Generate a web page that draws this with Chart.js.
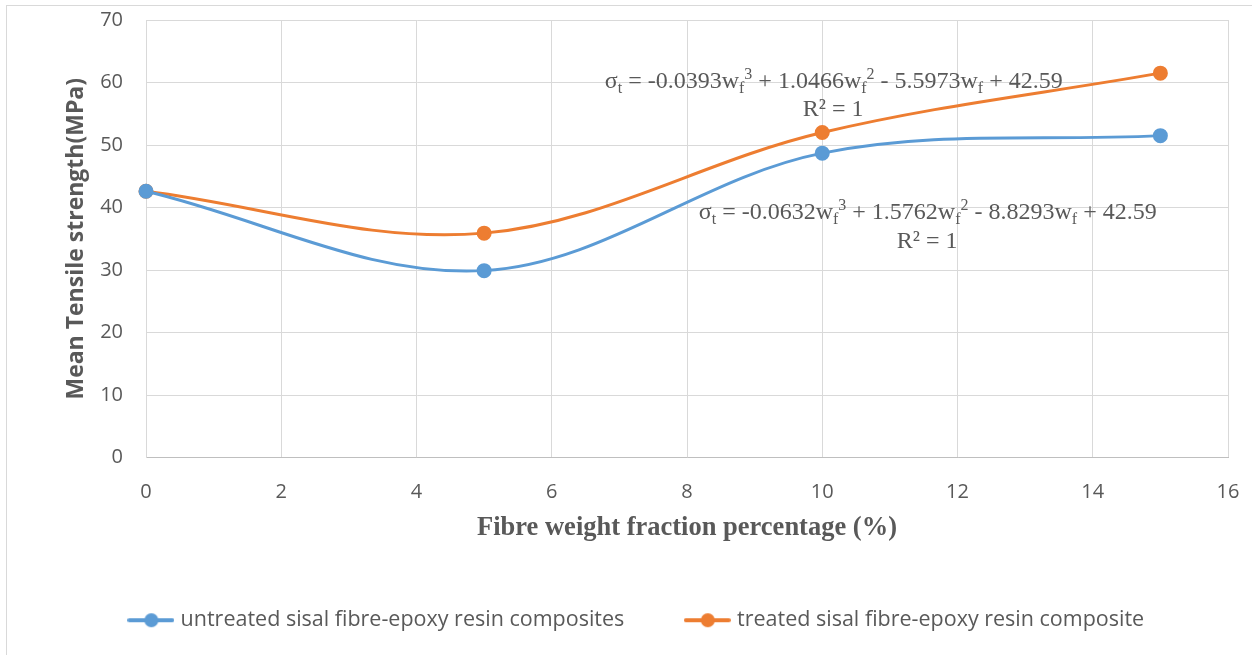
<!DOCTYPE html>
<html>
<head>
<meta charset="utf-8">
<script src="https://cdn.jsdelivr.net/npm/chart.js@4.4.0/dist/chart.umd.min.js"></script>
<style>
html, body { margin: 0; padding: 0; background: #fff; }
#wrap { position: relative; width: 1252px; height: 655px; overflow: hidden; }
#frame { position: absolute; left: 6px; top: 5px; width: 1270px; height: 670px; border: 1px solid #d9d9d9; }
canvas { position: absolute; left: 0; top: 0; }
</style>
</head>
<body>
<div id="wrap"><div id="frame"></div><canvas id="myChart" width="1252" height="655"></canvas></div>
<script>
// values
const fibreFraction = [0, 5, 10, 15];
const untreatedStrength = [42.6, 29.9, 48.7, 51.5];
const treatedStrength = [42.6, 35.9, 52.0, 61.5];
const seriesNames = ['untreated sisal fibre-epoxy resin composites', 'treated sisal fibre-epoxy resin composite'];
const seriesColors = ['#5B9BD5', '#ED7D31'];
const xTitle = 'Fibre weight fraction percentage (%)';
const yTitle = 'Mean Tensile strength(MPa)';

// trendline labels: [text, '' | 'sub' | 'sup']
const treatedEq = [['σ', ''], ['t', 'sub'], [' = -0.0393w', ''], ['f', 'sub'], ['3', 'sup'], [' + 1.0466w', ''], ['f', 'sub'], ['2', 'sup'], [' - 5.5973w', ''], ['f', 'sub'], [' + 42.59', '']];
const untreatedEq = [['σ', ''], ['t', 'sub'], [' = -0.0632w', ''], ['f', 'sub'], ['3', 'sup'], [' + 1.5762w', ''], ['f', 'sub'], ['2', 'sup'], [' - 8.8293w', ''], ['f', 'sub'], [' + 42.59', '']];
const rSquared = [['R² = 1', '']];
// label anchors in data units (centre x, baseline y)
const labelSpots = [
    { segs: treatedEq, x: 10.17, y: 59.1 },
    { segs: rSquared, x: 10.16, y: 54.6 },
    { segs: untreatedEq, x: 11.56, y: 38.2 },
    { segs: rSquared, x: 11.55, y: 33.6 }
];

const toPoints = (ys) => fibreFraction.map((x, i) => ({ x: x, y: ys[i] }));

// legend marker: line with a dot, like the office legend
const makeMarker = (color) => {
    let c = document.createElement('canvas');
    c.width = 47;
    c.height = 16;
    let g = c.getContext('2d');
    g.strokeStyle = color;
    g.lineWidth = 4;
    g.lineCap = 'round';
    g.beginPath();
    g.moveTo(2, 8);
    g.lineTo(45, 8);
    g.stroke();
    g.fillStyle = color;
    g.beginPath();
    g.arc(24, 8, 7, 0, Math.PI * 2);
    g.fill();
    return c;
};
const markers = seriesColors.map(makeMarker);

const drawRich = (ctx, segs, cx, baseY, size) => {
    const base = size + 'px "Liberation Serif"';
    const small = Math.round(size * 0.65) + 'px "Liberation Serif"';
    let total = 0;
    segs.forEach(s => {
        ctx.font = s[1] ? small : base;
        total += ctx.measureText(s[0]).width;
    });
    let x = cx - total / 2;
    segs.forEach(s => {
        ctx.font = s[1] ? small : base;
        let dy = s[1] == 'sub' ? size * 0.2 : s[1] == 'sup' ? -size * 0.36 : 0;
        ctx.fillText(s[0], x, baseY + dy);
        x += ctx.measureText(s[0]).width;
    });
};

const trendLabels = {
    id: 'trendLabels',
    afterDatasetsDraw(chart) {
        const ctx = chart.ctx;
        const xs = chart.scales.x, ys = chart.scales.y;
        ctx.save();
        ctx.fillStyle = '#595959';
        ctx.textAlign = 'left';
        ctx.textBaseline = 'alphabetic';
        labelSpots.forEach(l => drawRich(ctx, l.segs, xs.getPixelForValue(l.x), ys.getPixelForValue(l.y), 24));
        ctx.restore();
    }
};

let ctx = document.getElementById('myChart').getContext('2d');

new Chart(ctx, {
    type: 'line',
    data: {
        datasets: [{
            label: seriesNames[0],
            data: toPoints(untreatedStrength),
            borderColor: seriesColors[0],
            backgroundColor: seriesColors[0],
            borderWidth: 3,
            pointRadius: 6,
            pointHoverRadius: 6,
            tension: 0.35,
            clip: false,
            fill: false
        }, {
            label: seriesNames[1],
            data: toPoints(treatedStrength),
            borderColor: seriesColors[1],
            backgroundColor: seriesColors[1],
            borderWidth: 3,
            pointRadius: 6,
            pointHoverRadius: 6,
            tension: 0.35,
            clip: false,
            fill: false
        }]
    },
    options: {
        responsive: false,
        animation: false,
        layout: { padding: { top: 20, right: 24, bottom: 14, left: 48 } },
        scales: {
            x: {
                type: 'linear',
                min: 0,
                max: 16,
                ticks: { stepSize: 2, padding: 23, color: '#595959', font: { family: 'Open Sans', size: 20 } },
                grid: { color: '#d9d9d9', drawTicks: false },
                border: { color: '#bfbfbf' },
                title: { display: true, text: xTitle, color: '#595959', padding: { top: 0, bottom: 1 }, font: { family: 'Liberation Serif', size: 26.5, weight: 'bold' } },
                afterFit: (scale) => {
                    scale.height = 88;
                    scale.paddingLeft = 12;
                    scale.paddingRight = 12;
                }
            },
            y: {
                min: 0,
                max: 70,
                ticks: { stepSize: 10, padding: 23, color: '#595959', font: { family: 'Open Sans', size: 20 } },
                grid: { color: '#d9d9d9', drawTicks: false },
                border: { color: '#d9d9d9' },
                title: { display: true, text: yTitle, color: '#595959', padding: { top: 15, bottom: 0 }, font: { family: 'Open Sans', size: 23, weight: 'bold' } },
                afterFit: (scale) => {
                    scale.width = 98;
                    scale.paddingTop = 12;
                    scale.paddingBottom = 12;
                }
            }
        },
        plugins: {
            tooltip: { enabled: false },
            legend: {
                position: 'bottom',
                labels: {
                    usePointStyle: true,
                    pointStyleWidth: 38,
                    padding: 64,
                    color: '#595959',
                    font: { family: 'Open Sans', size: 21.5 },
                    generateLabels(chart) {
                        let items = Chart.defaults.plugins.legend.labels.generateLabels(chart);
                        items.forEach((it, i) => { it.pointStyle = markers[i]; });
                        return items;
                    }
                }
            }
        }
    },
    plugins: [trendLabels]
});
</script>
</body>
</html>
